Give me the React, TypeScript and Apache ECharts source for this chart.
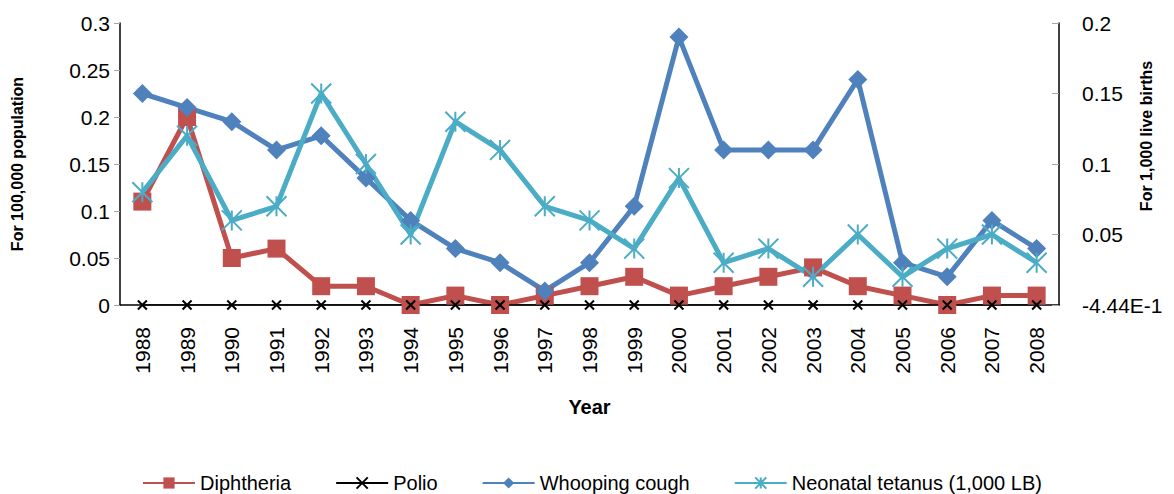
import React, { useEffect, useRef } from "react";
import * as echarts from "echarts";

const years = ["1988","1989","1990","1991","1992","1993","1994","1995","1996","1997","1998","1999","2000","2001","2002","2003","2004","2005","2006","2007","2008"];
const diphtheria = [0.11,0.2,0.05,0.06,0.02,0.02,0,0.01,0,0.01,0.02,0.03,0.01,0.02,0.03,0.04,0.02,0.01,0,0.01,0.01];
const polio = [0,0,0,0,0,0,0,0,0,0,0,0,0,0,0,0,0,0,0,0,0];
const whoopingCough = [0.225,0.21,0.195,0.165,0.18,0.135,0.09,0.06,0.045,0.015,0.045,0.105,0.285,0.165,0.165,0.165,0.24,0.045,0.03,0.09,0.06];
const neonatalTetanus = [0.08,0.12,0.06,0.07,0.15,0.1,0.05,0.13,0.11,0.07,0.06,0.04,0.09,0.03,0.04,0.02,0.05,0.02,0.04,0.05,0.03];

const FONT = "'Liberation Sans', Arial, sans-serif";
const RED = "#C0504D";
const BLUE = "#4F81BD";
const CYAN = "#4BACC6";

export default function App() {
  const ref = useRef<HTMLDivElement>(null);
  useEffect(() => {
    if (!ref.current) return;
    const chart = echarts.init(ref.current, null, { renderer: "svg" });
    chart.setOption({
      animation: false,
      textStyle: { fontFamily: FONT, color: "#000" },
      grid: { left: 120, right: 115, top: 23, bottom: 189 },
      legend: {
        left: 137,
        top: 468,
        itemWidth: 52,
        itemHeight: 14,
        itemGap: 44,
        textStyle: { fontSize: 20, fontFamily: FONT, color: "#000" },
        data: ["Diphtheria", "Polio", "Whooping cough", "Neonatal tetanus (1,000 LB)"],
      },
      xAxis: {
        type: "category",
        data: years,
        name: "Year",
        nameLocation: "middle",
        nameGap: 92,
        nameTextStyle: { fontSize: 20, fontWeight: "bold", fontFamily: FONT, color: "#000" },
        axisLine: { lineStyle: { color: "#000", width: 1.5 } },
        axisTick: { lineStyle: { color: "#A6A6A6" }, length: 7 },
        axisLabel: { rotate: 90, fontSize: 21, margin: 22, color: "#000", fontFamily: FONT },
      },
      yAxis: [
        {
          type: "value",
          min: 0,
          max: 0.3,
          interval: 0.05,
          name: "For 100,000 population",
          nameLocation: "middle",
          nameRotate: 90,
          nameGap: 95,
          nameTextStyle: { fontSize: 16, fontWeight: "bold", fontFamily: FONT, color: "#000" },
          splitLine: { show: false },
          axisLine: { show: true, lineStyle: { color: "#000", width: 1.5 } },
          axisTick: { show: true, length: 6, lineStyle: { color: "#A6A6A6" } },
          axisLabel: { fontSize: 21, margin: 10, color: "#000", fontFamily: FONT },
        },
        {
          type: "value",
          position: "right",
          min: 0,
          max: 0.2,
          interval: 0.05,
          splitLine: { show: false },
          axisLine: { show: true, lineStyle: { color: "#000", width: 1.5 } },
          axisTick: { show: true, inside: true, length: 7, lineStyle: { color: "#A6A6A6" } },
          axisLabel: {
            fontSize: 21,
            margin: 23,
            color: "#000",
            fontFamily: FONT,
            formatter: (v: number) => (v === 0 ? "-4.44E-1" : String(v)),
          },
        },
      ],
      graphic: [
        {
          type: "text",
          x: 1146,
          y: 136,
          rotation: Math.PI / 2,
          style: {
            text: "For 1,000 live births",
            font: `bold 16px ${FONT}`,
            fill: "#000",
            align: "center",
            verticalAlign: "middle",
          },
        },
      ],
      series: [
        {
          name: "Diphtheria",
          type: "line",
          data: diphtheria,
          yAxisIndex: 0,
          symbol: "rect",
          symbolSize: 18,
          lineStyle: { color: RED, width: 5 },
          itemStyle: { color: RED },
        },
        {
          name: "Polio",
          type: "line",
          data: polio,
          yAxisIndex: 0,
          symbol: "path://M0,0L10,10M10,0L0,10",
          symbolSize: 9,
          lineStyle: { color: "#000", width: 1.5 },
          itemStyle: { color: "#000", borderColor: "#000", borderWidth: 2 },
        },
        {
          name: "Whooping cough",
          type: "line",
          data: whoopingCough,
          yAxisIndex: 0,
          symbol: "diamond",
          symbolSize: 19,
          lineStyle: { color: BLUE, width: 5 },
          itemStyle: { color: BLUE },
        },
        {
          name: "Neonatal tetanus (1,000 LB)",
          type: "line",
          data: neonatalTetanus,
          yAxisIndex: 1,
          symbol: "path://M0,0L20,20M20,0L0,20M10,0L10,20",
          symbolSize: 20,
          lineStyle: { color: CYAN, width: 5 },
          itemStyle: { color: CYAN, borderColor: CYAN, borderWidth: 2 },
        },
      ],
    });
    return () => chart.dispose();
  }, []);
  return (
    <div
      ref={ref}
      style={{ position: "fixed", left: 0, top: 0, width: 1174, height: 494, background: "#fff" }}
    />
  );
}
